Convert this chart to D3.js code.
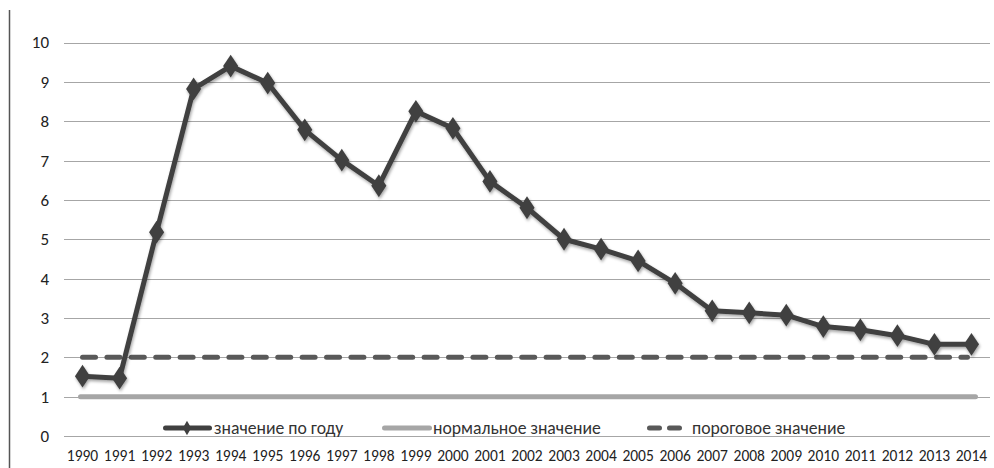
<!DOCTYPE html>
<html><head><meta charset="utf-8">
<script src="https://cdn.jsdelivr.net/npm/d3@7"></script>
<style>body{margin:0;background:#fff}svg{display:block}</style>
</head><body>
<svg id="c" width="994" height="468"></svg>
<script>
const years = ["1990","1991","1992","1993","1994","1995","1996","1997","1998","1999","2000","2001","2002","2003","2004","2005","2006","2007","2008","2009","2010","2011","2012","2013","2014"];
const yearValues = [1.52,1.47,5.18,8.82,9.4,8.97,7.78,7.01,6.36,8.25,7.82,6.47,5.8,5.0,4.75,4.45,3.88,3.18,3.13,3.07,2.78,2.7,2.55,2.33,2.33];
const normalValue = 1;
const thresholdValue = 2;
const yTicks = [0,1,2,3,4,5,6,7,8,9,10];
const seriesNames = ["значение по году","нормальное значение","пороговое значение"];

const svg = d3.select("#c");
const m = {l:64, r:990, t:42.5, b:436};
const x = d3.scaleBand().domain(years).range([m.l, m.r]);
const y = d3.scaleLinear().domain([0,10]).range([m.b, m.t]);
const cx = d => x(d) + x.bandwidth()/2;
const font = "Carlito, 'Open Sans', 'Liberation Sans', sans-serif";

const defs = svg.append("defs");
const f = defs.append("filter").attr("id","sh").attr("x","-50%").attr("y","-50%").attr("width","200%").attr("height","200%");
f.append("feDropShadow").attr("dx",1).attr("dy",2).attr("stdDeviation",1.6).attr("flood-color","#000").attr("flood-opacity",0.35);

// left border
svg.append("line").attr("x1",9.5).attr("x2",9.5).attr("y1",10).attr("y2",468).attr("stroke","#555").attr("stroke-width",1.5);

// gridlines
svg.append("g").selectAll("line").data(yTicks.filter(t=>t>0)).join("line")
  .attr("x1",m.l).attr("x2",m.r).attr("y1",d=>Math.round(y(d))+0.5).attr("y2",d=>Math.round(y(d))+0.5)
  .attr("stroke","#a6a6a6").attr("stroke-width",1);

// y axis
const ya = svg.append("g").attr("transform",`translate(${m.l},0)`).call(d3.axisLeft(y).tickValues(yTicks).tickSize(0).tickPadding(15));
ya.select(".domain").remove();
ya.selectAll("text").attr("font-family",font).attr("font-size",17).attr("fill","#222");

// x axis
const xa = svg.append("g").attr("transform",`translate(0,${Math.round(m.b)+0.5})`).call(d3.axisBottom(x).tickSize(0).tickPadding(13));
xa.select(".domain").attr("stroke","#a6a6a6").attr("d",`M${m.l},0H${m.r}`);
xa.selectAll("text").attr("font-family",font).attr("font-size",15.5).attr("fill","#222");

// normal line
svg.append("line").attr("x1",cx(years[0])-2).attr("x2",cx(years[years.length-1])+4)
  .attr("y1",y(normalValue)).attr("y2",y(normalValue))
  .attr("stroke","#a6a6a6").attr("stroke-width",5).attr("stroke-linecap","round");

// threshold dashed
svg.append("line").attr("x1",cx(years[0])).attr("x2",cx(years[years.length-1])-4)
  .attr("y1",y(thresholdValue)).attr("y2",y(thresholdValue))
  .attr("stroke","#595959").attr("stroke-width",5).attr("stroke-linecap","round")
  .attr("stroke-dasharray","13,11.4");

// main series
const line = d3.line().x((d,i)=>cx(years[i])).y(d=>y(d));
const g = svg.append("g").attr("filter","url(#sh)");
g.append("path").datum(yearValues).attr("d",line).attr("fill","none").attr("stroke","#404040").attr("stroke-width",5).attr("stroke-linejoin","round");
const sym = d3.symbol().type(d3.symbolDiamond).size(150);
g.selectAll("path.m").data(yearValues).join("path").attr("class","m")
  .attr("d",sym).attr("transform",(d,i)=>`translate(${cx(years[i])},${y(d)}) scale(1.15,1)`)
  .attr("fill","#404040");

// legend
const ly = 428;
const lg = svg.append("g");
lg.append("line").attr("x1",165.5).attr("x2",209.5).attr("y1",ly).attr("y2",ly).attr("stroke","#404040").attr("stroke-width",5).attr("stroke-linecap","round");
lg.append("path").attr("d",d3.symbol().type(d3.symbolDiamond).size(60)).attr("transform",`translate(187,${ly})`).attr("fill","#404040");
lg.append("text").attr("x",214).attr("y",ly+5.5).text(seriesNames[0]);
lg.append("line").attr("x1",384.5).attr("x2",429.5).attr("y1",ly).attr("y2",ly).attr("stroke","#a6a6a6").attr("stroke-width",5).attr("stroke-linecap","round");
lg.append("text").attr("x",433).attr("y",ly+5.5).text(seriesNames[1]);
lg.append("line").attr("x1",649.5).attr("x2",679.5).attr("y1",ly).attr("y2",ly).attr("stroke","#595959").attr("stroke-width",5).attr("stroke-linecap","round").attr("stroke-dasharray","10,10");
lg.append("text").attr("x",692).attr("y",ly+5.5).text(seriesNames[2]);
lg.selectAll("text").attr("font-family",font).attr("font-size",17.7).attr("fill","#333");
</script>
</body></html>
